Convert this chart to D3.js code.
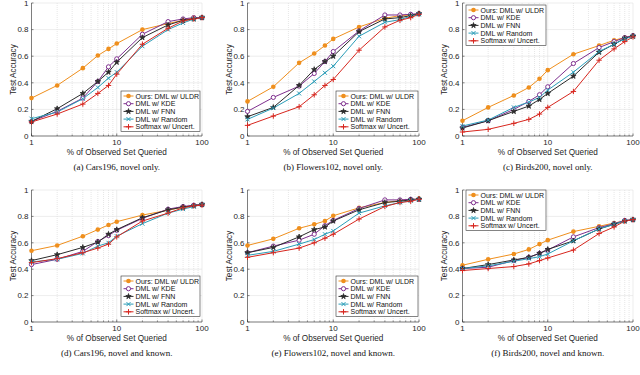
<!DOCTYPE html>
<html lang="en">
<head>
  <meta charset="UTF-8">
  <title>Test Accuracy vs % of Observed Set Queried</title>
  <style>
    body { margin: 0; background: #fff; }
    svg { display: block; }
    .tick-label { font-family: "Liberation Sans", Arial, sans-serif; font-size: 8px; fill: #262626; }
    .axis-title { font-family: "Liberation Sans", Arial, sans-serif; font-size: 8.2px; fill: #262626; }
    .caption { font-family: "Liberation Serif", "Times New Roman", serif; font-size: 9px; fill: #111; }
    .legend text { font-family: "Liberation Sans", Arial, sans-serif; font-size: 7px; fill: #111; }
  </style>
</head>
<body>
  <script src="https://cdn.jsdelivr.net/npm/d3@7"></script>
  <script>
    // x positions: % of observed set queried
    var queried = [1, 2, 4, 6, 8, 10, 20, 40, 60, 80, 100];
    var methods = ["Ours: DML w/ ULDR", "DML w/ KDE", "DML w/ FNN", "DML w/ Random", "Softmax w/ Uncert."];
    var yTicks = [0, 0.2, 0.4, 0.6, 0.8, 1];
    var xTicks = [1, 10, 100];

    // each panel: one row per method, in the order of `methods`
    var carsNovel = [
      [0.285, 0.38, 0.51, 0.605, 0.655, 0.695, 0.80, 0.845, 0.87, 0.89, 0.89],
      [0.11, 0.185, 0.285, 0.41, 0.52, 0.58, 0.765, 0.86, 0.88, 0.89, 0.89],
      [0.11, 0.205, 0.32, 0.41, 0.48, 0.555, 0.74, 0.835, 0.87, 0.88, 0.89],
      [0.13, 0.18, 0.28, 0.365, 0.435, 0.48, 0.675, 0.80, 0.85, 0.88, 0.89],
      [0.105, 0.165, 0.24, 0.32, 0.38, 0.465, 0.69, 0.81, 0.865, 0.88, 0.89]
    ];
    var flowersNovel = [
      [0.26, 0.37, 0.55, 0.62, 0.68, 0.73, 0.82, 0.885, 0.905, 0.91, 0.92],
      [0.185, 0.29, 0.375, 0.47, 0.56, 0.635, 0.79, 0.91, 0.91, 0.915, 0.92],
      [0.145, 0.215, 0.38, 0.50, 0.56, 0.60, 0.785, 0.88, 0.89, 0.905, 0.92],
      [0.125, 0.21, 0.32, 0.41, 0.475, 0.525, 0.75, 0.855, 0.875, 0.90, 0.915],
      [0.08, 0.15, 0.22, 0.31, 0.38, 0.425, 0.645, 0.82, 0.87, 0.89, 0.915]
    ];
    var birdsNovel = [
      [0.115, 0.215, 0.305, 0.365, 0.43, 0.495, 0.615, 0.68, 0.72, 0.74, 0.755],
      [0.065, 0.115, 0.20, 0.26, 0.31, 0.37, 0.545, 0.665, 0.71, 0.74, 0.755],
      [0.06, 0.115, 0.185, 0.225, 0.275, 0.32, 0.45, 0.63, 0.69, 0.735, 0.75],
      [0.075, 0.12, 0.215, 0.255, 0.29, 0.345, 0.48, 0.635, 0.69, 0.73, 0.75],
      [0.03, 0.05, 0.095, 0.125, 0.165, 0.215, 0.335, 0.57, 0.655, 0.71, 0.745]
    ];
    var carsBoth = [
      [0.54, 0.58, 0.65, 0.70, 0.735, 0.76, 0.81, 0.847, 0.87, 0.885, 0.89],
      [0.435, 0.475, 0.535, 0.61, 0.655, 0.695, 0.785, 0.855, 0.875, 0.885, 0.89],
      [0.465, 0.51, 0.565, 0.605, 0.665, 0.70, 0.79, 0.85, 0.87, 0.88, 0.89],
      [0.455, 0.475, 0.52, 0.575, 0.60, 0.65, 0.745, 0.825, 0.855, 0.875, 0.89],
      [0.45, 0.48, 0.525, 0.56, 0.59, 0.645, 0.765, 0.825, 0.865, 0.88, 0.885]
    ];
    var flowersBoth = [
      [0.58, 0.63, 0.71, 0.74, 0.765, 0.805, 0.865, 0.905, 0.92, 0.925, 0.935],
      [0.525, 0.575, 0.62, 0.665, 0.73, 0.77, 0.86, 0.925, 0.925, 0.93, 0.93],
      [0.525, 0.565, 0.645, 0.70, 0.72, 0.765, 0.85, 0.905, 0.915, 0.925, 0.93],
      [0.505, 0.535, 0.59, 0.625, 0.665, 0.69, 0.825, 0.88, 0.905, 0.92, 0.93],
      [0.49, 0.525, 0.56, 0.60, 0.635, 0.665, 0.78, 0.875, 0.905, 0.915, 0.93]
    ];
    var birdsBoth = [
      [0.43, 0.475, 0.515, 0.55, 0.59, 0.62, 0.685, 0.725, 0.75, 0.765, 0.775],
      [0.405, 0.415, 0.465, 0.49, 0.52, 0.545, 0.645, 0.715, 0.745, 0.77, 0.775],
      [0.405, 0.435, 0.47, 0.49, 0.52, 0.55, 0.615, 0.705, 0.74, 0.765, 0.775],
      [0.405, 0.425, 0.46, 0.48, 0.495, 0.515, 0.615, 0.705, 0.74, 0.765, 0.775],
      [0.39, 0.405, 0.42, 0.44, 0.465, 0.485, 0.545, 0.67, 0.72, 0.765, 0.775]
    ];
    var captions = [
      "(a) Cars196, novel only.", "(b) Flowers102, novel only.", "(c) Birds200, novel only.",
      "(d) Cars196, novel and known.", "(e) Flowers102, novel and known.", "(f) Birds200, novel and known."
    ];

    // styles
    var colors = ["#EF8F1D", "#7E2F8E", "#2b2b2b", "#2A9DB8", "#D7261E"];
    var markers = ["dot", "ring", "star", "cross", "plus"];

    var svg = d3.select("body").append("svg").attr("width", 640).attr("height", 375);

    // plot boxes
    var colX = [[31.5, 202], [247.5, 419], [462.5, 633]];
    var rowY = [[3, 136], [190, 322]];
    var legendBox = [
      { x: 121, y: 91 }, { x: 336, y: 91 }, { x: 466, y: 5 },
      { x: 121, y: 276 }, { x: 336, y: 276 }, { x: 466, y: 190 }
    ];
    var legendW = [79, 82, 80, 79, 82, 80];

    var panels = [carsNovel, flowersNovel, birdsNovel, carsBoth, flowersBoth, birdsBoth];

    function drawMarker(g, type, color, x, y) {
      if (type === "dot") {
        g.append("circle").attr("cx", x).attr("cy", y).attr("r", 2.3).attr("fill", color);
      } else if (type === "ring") {
        g.append("circle").attr("cx", x).attr("cy", y).attr("r", 2.1)
          .attr("fill", "#fff").attr("stroke", color).attr("stroke-width", 1);
      } else if (type === "star") {
        g.append("path").attr("d", d3.symbol().type(d3.symbolStar).size(9)())
          .attr("transform", "translate(" + x + "," + y + ")")
          .attr("fill", color).attr("stroke", color).attr("stroke-width", 0.8);
      } else if (type === "cross") {
        g.append("path").attr("d", "M" + (x - 2) + "," + (y - 2) + "L" + (x + 2) + "," + (y + 2) +
          "M" + (x - 2) + "," + (y + 2) + "L" + (x + 2) + "," + (y - 2))
          .attr("stroke", color).attr("stroke-width", 1);
      } else {
        g.append("path").attr("d", "M" + (x - 2.7) + "," + y + "L" + (x + 2.7) + "," + y +
          "M" + x + "," + (y - 2.7) + "L" + x + "," + (y + 2.7))
          .attr("stroke", color).attr("stroke-width", 1);
      }
    }

    panels.forEach(function (series, p) {
      var cx = colX[p % 3], ry = rowY[Math.floor(p / 3)];
      var x = d3.scaleLog().domain([1, 100]).range([cx[0], cx[1]]);
      var y = d3.scaleLinear().domain([0, 1]).range([ry[1], ry[0]]);
      var g = svg.append("g");

      // grid
      var minor = [];
      [1, 10].forEach(function (d) { for (var k = 2; k <= 9; k++) minor.push(d * k); });
      g.selectAll(".minor").data(minor).enter().append("line")
        .attr("x1", function (d) { return x(d); }).attr("x2", function (d) { return x(d); })
        .attr("y1", ry[0]).attr("y2", ry[1])
        .attr("stroke", "#cfcfcf").attr("stroke-width", 0.5).attr("stroke-dasharray", "1,1");
      g.selectAll(".vmaj").data(xTicks).enter().append("line")
        .attr("x1", function (d) { return x(d); }).attr("x2", function (d) { return x(d); })
        .attr("y1", ry[0]).attr("y2", ry[1])
        .attr("stroke", "#e0e0e0").attr("stroke-width", 0.6);
      g.selectAll(".hmaj").data(yTicks).enter().append("line")
        .attr("x1", cx[0]).attr("x2", cx[1])
        .attr("y1", function (d) { return y(d); }).attr("y2", function (d) { return y(d); })
        .attr("stroke", "#e0e0e0").attr("stroke-width", 0.6);

      // axis lines, inward ticks
      g.append("line").attr("x1", cx[0]).attr("x2", cx[0]).attr("y1", ry[0]).attr("y2", ry[1])
        .attr("stroke", "#333").attr("stroke-width", 0.6);
      g.append("line").attr("x1", cx[0]).attr("x2", cx[1]).attr("y1", ry[1]).attr("y2", ry[1])
        .attr("stroke", "#333").attr("stroke-width", 0.6);
      g.selectAll(".yt").data(yTicks).enter().append("line")
        .attr("x1", cx[0]).attr("x2", cx[0] + 2)
        .attr("y1", function (d) { return y(d); }).attr("y2", function (d) { return y(d); })
        .attr("stroke", "#333").attr("stroke-width", 0.6);
      g.selectAll(".xt").data(xTicks).enter().append("line")
        .attr("x1", function (d) { return x(d); }).attr("x2", function (d) { return x(d); })
        .attr("y1", ry[1]).attr("y2", ry[1] - 2.5)
        .attr("stroke", "#333").attr("stroke-width", 0.6);
      g.selectAll(".xm").data(minor).enter().append("line")
        .attr("x1", function (d) { return x(d); }).attr("x2", function (d) { return x(d); })
        .attr("y1", ry[1]).attr("y2", ry[1] - 1.5)
        .attr("stroke", "#333").attr("stroke-width", 0.5);

      g.selectAll(".yl").data(yTicks).enter().append("text").attr("class", "tick-label")
        .attr("x", cx[0] - 3).attr("y", function (d) { return y(d) + 2.8; })
        .attr("text-anchor", "end").text(function (d) { return d3.format("")(d); });
      g.selectAll(".xl").data(xTicks).enter().append("text").attr("class", "tick-label")
        .attr("x", function (d) { return x(d); }).attr("y", ry[1] + 9)
        .attr("text-anchor", "middle").text(function (d) { return d; });

      g.append("text").attr("class", "axis-title")
        .attr("x", (cx[0] + cx[1]) / 2).attr("y", ry[1] + 19)
        .attr("text-anchor", "middle").text("% of Observed Set Queried");
      g.append("text").attr("class", "axis-title")
        .attr("transform", "translate(" + (cx[0] - 16) + "," + ((ry[0] + ry[1]) / 2) + ") rotate(-90)")
        .attr("text-anchor", "middle").text("Test Accuracy");
      g.append("text").attr("class", "caption")
        .attr("x", (cx[0] + cx[1]) / 2).attr("y", ry[1] + 34)
        .attr("text-anchor", "middle").text(captions[p]);

      // lines and markers
      var line = d3.line().x(function (d, i) { return x(queried[i]); }).y(function (d) { return y(d); });
      series.forEach(function (vals, s) {
        g.append("path").attr("d", line(vals)).attr("fill", "none")
          .attr("stroke", colors[s]).attr("stroke-width", 1);
      });
      series.forEach(function (vals, s) {
        vals.forEach(function (v, i) { drawMarker(g, markers[s], colors[s], x(queried[i]), y(v)); });
      });

      // legend
      var lb = legendBox[p];
      var lg = g.append("g").attr("class", "legend");
      lg.append("rect").attr("x", lb.x).attr("y", lb.y).attr("width", legendW[p]).attr("height", 40.5)
        .attr("fill", "#fff").attr("stroke", "#333").attr("stroke-width", 0.6);
      methods.forEach(function (m, s) {
        var yy = lb.y + 5 + s * 7.7;
        lg.append("line").attr("x1", lb.x + 2.5).attr("x2", lb.x + 12.5).attr("y1", yy).attr("y2", yy)
          .attr("stroke", colors[s]).attr("stroke-width", 1);
        drawMarker(lg, markers[s], colors[s], lb.x + 7.5, yy);
        lg.append("text").attr("x", lb.x + 14.5).attr("y", yy + 2.5).text(m);
      });
    });
  </script>
</body>
</html>
